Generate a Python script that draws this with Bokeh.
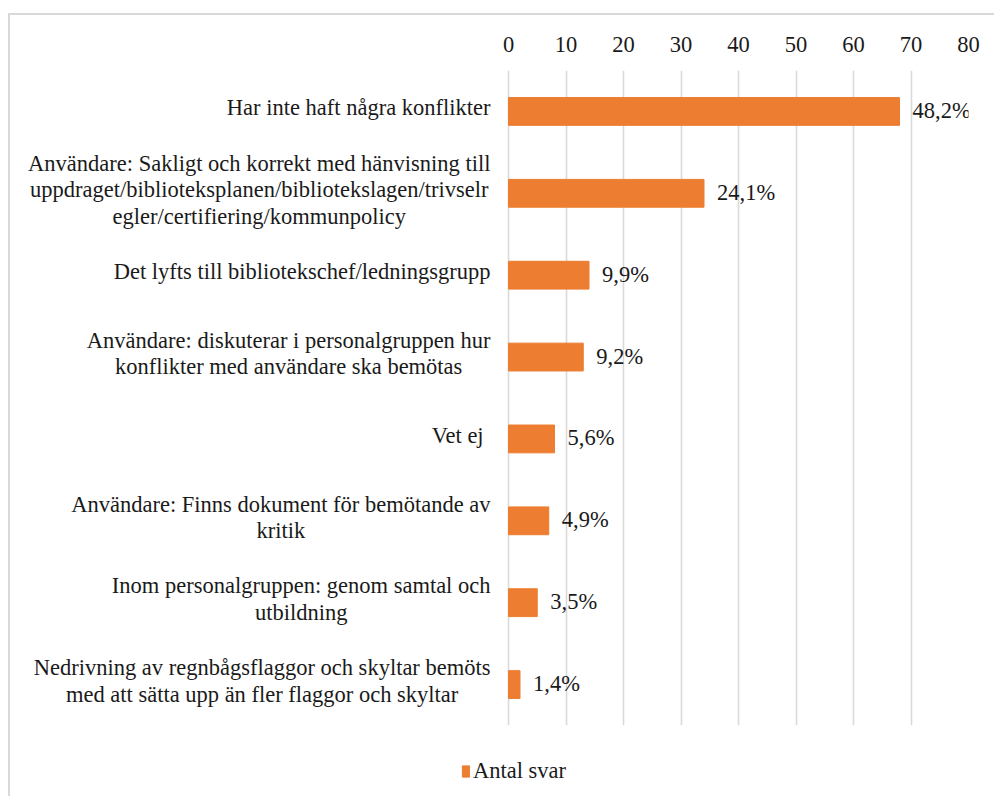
from bokeh.plotting import figure
from bokeh.layouts import column
from bokeh.models import FactorRange, Range1d, Legend, LegendItem, ColumnDataSource, FixedTicker
from bokeh.core.properties import value
from bokeh.embed import file_html
from bokeh.resources import INLINE

# ---------------- data ----------------
categories = [
    "Har inte haft några konflikter",
    "Användare: Sakligt och korrekt med hänvisning till\nuppdraget/biblioteksplanen/bibliotekslagen/trivselr\negler/certifiering/kommunpolicy",
    "Det lyfts till bibliotekschef/ledningsgrupp",
    "Användare: diskuterar i personalgruppen hur\nkonflikter med användare ska bemötas",
    "Vet ej ",
    "Användare: Finns dokument för bemötande av\nkritik",
    "Inom personalgruppen: genom samtal och\nutbildning",
    "Nedrivning av regnbågsflaggor och skyltar bemöts\nmed att sätta upp än fler flaggor och skyltar",
]
counts = [68, 34, 14, 13, 8, 7, 5, 2]
pct_labels = ["48,2%", "24,1%", "9,9%", "9,2%", "5,6%", "4,9%", "3,5%", "1,4%"]
x_ticks = [0, 10, 20, 30, 40, 50, 60, 70, 80]
series_name = "Antal svar"

# ---------------- style / layout ----------------
FONT = "Liberation Serif"
FS = 22.5
ORANGE = "#ED7D31"
GRID = "#d9d9d9"
TXT = "#1a1a1a"
W = 984
H_MAIN, H_LEG = 715, 66
LABEL_AREA_PX = 493     # px from frame left to value 0
PLOT_AREA_PX = 460      # px from value 0 to value 80
LABEL_GAP_PX = 18       # gap between category text and value 0
LINE_H = 26.5

# Times/Liberation Serif advance widths (1/1000 em) for centring wrapped labels
_TW = {" ": 250, "a": 444, "b": 500, "c": 444, "d": 500, "e": 444, "f": 333, "g": 500,
       "h": 500, "i": 278, "j": 278, "k": 500, "l": 278, "m": 778, "n": 500, "o": 500,
       "p": 500, "q": 500, "r": 333, "s": 389, "t": 278, "u": 500, "v": 500, "w": 722,
       "x": 500, "y": 500, "z": 444, "å": 444, "ä": 444, "ö": 500, "A": 722, "D": 722,
       "H": 722, "I": 333, "N": 722, "V": 722, "F": 556, "S": 556, ":": 278, "/": 278}


def tw(s):
    return sum(_TW.get(c, 500) for c in s) / 1000.0 * FS


x_max = x_ticks[-1]
x_min = -x_max * LABEL_AREA_PX / PLOT_AREA_PX

# rows for the wrapped, centred category labels
lx, ly, lt, lxo, lyo = [], [], [], [], []
for cat in categories:
    lines = cat.split("\n")
    bw = max(tw(s) for s in lines)
    n = len(lines)
    for i, s in enumerate(lines):
        lx.append(0)
        ly.append(cat)
        lt.append(s)
        lxo.append(-(LABEL_GAP_PX + bw / 2.0))
        lyo.append((i - (n - 1) / 2.0) * LINE_H - 3.5)

src = ColumnDataSource(dict(cat=categories, n=counts, lab=pct_labels))
lsrc = ColumnDataSource(dict(x=lx, y=ly, t=lt, xo=lxo, yo=lyo))

p = figure(
    width=W, height=H_MAIN,
    y_range=FactorRange(factors=list(reversed(categories)), range_padding=0),
    x_range=Range1d(x_min, x_max),
    x_axis_location="above",
    output_backend="svg", toolbar_location=None,
    min_border_left=5, min_border_right=W - 5 - LABEL_AREA_PX - PLOT_AREA_PX,
    min_border_top=55, min_border_bottom=5,
)
p.outline_line_color = None

r = p.hbar(y="cat", right="n", left=0, height=0.34, source=src, color=ORANGE)

p.text(x="n", y="cat", text="lab", source=src, x_offset=13, y_offset=-1,
       text_align="left", text_baseline="middle",
       text_font=value(FONT), text_font_size=f"{FS}px", text_color=TXT)

p.text(x="x", y="y", text="t", source=lsrc, x_offset="xo", y_offset="yo",
       text_align="center", text_baseline="middle",
       text_font=value(FONT), text_font_size=f"{FS}px", text_color=TXT)

xa = p.xaxis[0]
xa.ticker = FixedTicker(ticks=x_ticks)
xa.axis_line_color = None
xa.major_tick_line_color = None
xa.minor_tick_line_color = None
xa.major_label_text_font = FONT
xa.major_label_text_font_size = f"{FS}px"
xa.major_label_text_color = TXT
xa.major_label_standoff = 13

p.yaxis.visible = False
p.ygrid.grid_line_color = None
p.xgrid.grid_line_color = GRID
p.xgrid.grid_line_width = 1.6
p.xgrid.ticker = FixedTicker(ticks=x_ticks)

# ---------------- legend strip ----------------
pl = figure(width=W, height=H_LEG, x_range=Range1d(x_min, x_max),
            y_range=FactorRange(factors=list(reversed(categories))),
            output_backend="svg", toolbar_location=None,
            min_border=0)
pl.axis.visible = False
pl.grid.visible = False
pl.outline_line_color = None
# the series' renderer in the strip is hidden; only its legend swatch is shown
rl = pl.hbar(y="cat", right="n", left=0, height=0.34, source=src, color=ORANGE, visible=False)

legend = Legend(items=[LegendItem(label=series_name, renderers=[rl])],
                location=(446, 12), orientation="horizontal",
                label_text_font=FONT, label_text_font_size=f"{FS}px", label_text_color=TXT,
                glyph_width=9, glyph_height=14, label_standoff=3, padding=0, margin=0,
                inactive_fill_alpha=0,
                border_line_color=None, background_fill_alpha=0)
pl.add_layout(legend, "center")

lay = column(p, pl, spacing=0, margin=(13, 0, 0, 8))
lay.styles = {"border-left": "2px solid #d9d9d9", "border-top": "2px solid #d9d9d9"}

open("out.html", "w").write(file_html(lay, INLINE))
